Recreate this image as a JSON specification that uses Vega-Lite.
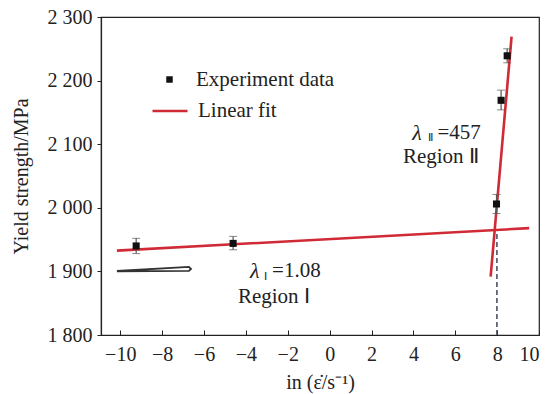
{
  "$schema": "https://vega.github.io/schema/vega-lite/v6.json",
  "width": 438,
  "height": 318,
  "autosize": {"type": "none"},
  "padding": {"left": 101, "top": 17, "right": 10, "bottom": 59},
  "background": "white",
  "config": {
    "font": "Liberation Serif",
    "view": {"stroke": "#222", "strokeWidth": 1.2},
    "text": {"font": "Liberation Serif"},
    "axis": {
      "labelFont": "Liberation Serif",
      "titleFont": "Liberation Serif",
      "labelFontSize": 20,
      "titleFontSize": 20,
      "titleFontWeight": "normal",
      "labelColor": "#222",
      "titleColor": "#222",
      "domainColor": "#222",
      "domainWidth": 1.2,
      "tickColor": "#222",
      "grid": false
    },
    "legend": {
      "labelFont": "Liberation Serif",
      "labelFontSize": 21,
      "labelColor": "#222",
      "padding": 0
    }
  },
  "datasets": {
    "experiment": [
      {"rate": -9.24, "strength": 1940, "lo": 1928, "hi": 1952, "series": "Experiment data"},
      {"rate": -4.61, "strength": 1944, "lo": 1934, "hi": 1955, "series": "Experiment data"},
      {"rate": 7.97, "strength": 2006, "lo": 1991, "hi": 2021, "series": "Experiment data"},
      {"rate": 8.19, "strength": 2169, "lo": 2154, "hi": 2185, "series": "Experiment data"},
      {"rate": 8.48, "strength": 2239, "lo": 2228, "hi": 2250, "series": "Experiment data"}
    ],
    "fits": [
      {"fit": "Region I", "i": 0, "rate": -10.16, "strength": 1932.6, "series": "Linear fit"},
      {"fit": "Region I", "i": 1, "rate": 9.53, "strength": 1968, "series": "Linear fit"},
      {"fit": "Region II", "i": 0, "rate": 7.69, "strength": 1891.7, "series": "Linear fit"},
      {"fit": "Region II", "i": 1, "rate": 8.69, "strength": 2269, "series": "Linear fit"}
    ],
    "wedge": [
      {"i": 0, "rate": -10.16, "strength": 1900},
      {"i": 1, "rate": -6.72, "strength": 1900.8},
      {"i": 2, "rate": -6.62, "strength": 1903.8},
      {"i": 3, "rate": -6.72, "strength": 1907},
      {"i": 4, "rate": -10.16, "strength": 1900.6}
    ],
    "threshold": [
      {"rate": 7.99, "from": 1800, "to": 1966}
    ],
    "labels": [
      {"rate": -2.75, "strength": 1900, "text": "=1.08"},
      {"rate": -4.38, "strength": 1860, "text": "Region  Ⅰ"},
      {"rate": 5.15, "strength": 2118, "text": "=457"},
      {"rate": 3.5, "strength": 2080, "text": "Region   Ⅱ"}
    ],
    "lambdas": [
      {"rate": -3.8, "strength": 1900, "text": "λ"},
      {"rate": 3.95, "strength": 2118, "text": "λ"}
    ],
    "subscripts": [
      {"rate": -3.15, "strength": 1891, "text": "Ⅰ"},
      {"rate": 4.68, "strength": 2109, "text": "Ⅱ"}
    ]
  },
  "encoding": {
    "x": {
      "field": "rate",
      "type": "quantitative",
      "scale": {"domain": [-10.92, 10.0], "nice": false, "zero": false},
      "axis": {"values": [-10, -8, -6, -4, -2, 0, 2, 4, 6, 8, 10], "title": "in (ε̇/s⁻¹)", "tickSize": -5, "labelPadding": 14, "titlePadding": 8}
    },
    "y": {
      "field": "strength",
      "type": "quantitative",
      "scale": {"domain": [1800, 2300], "nice": false, "zero": false},
      "axis": {"values": [1800, 1900, 2000, 2100, 2200, 2300], "title": "Yield strength/MPa", "tickSize": 4, "labelPadding": 5, "titlePadding": 16, "labelExpr": "replace(format(datum.value, ','), ',', ' ')"}
    }
  },
  "layer": [
    {
      "data": {"name": "wedge"},
      "mark": {"type": "line", "color": "#333", "strokeWidth": 1.8},
      "encoding": {"order": {"field": "i"}}
    },
    {
      "data": {"name": "threshold"},
      "mark": {"type": "rule", "color": "#3d4a58", "strokeWidth": 1.5, "strokeDash": [5, 3]},
      "encoding": {
        "y": {"field": "from", "type": "quantitative"},
        "y2": {"field": "to"}
      }
    },
    {
      "data": {"name": "fits"},
      "mark": {"type": "line", "strokeWidth": 2.6},
      "encoding": {
        "detail": {"field": "fit"},
        "order": {"field": "i"},
        "stroke": {
          "field": "series",
          "type": "nominal",
          "scale": {"domain": ["Linear fit"], "range": ["#cf2a35"]},
          "legend": {
            "title": null,
            "orient": "none",
            "legendX": 50,
            "legendY": 75,
            "symbolType": "stroke",
            "symbolSize": 1225,
            "symbolStrokeWidth": 2.6,
            "labelFont": "Liberation Serif",
            "labelOffset": 9
          }
        }
      }
    },
    {
      "data": {"name": "experiment"},
      "mark": {"type": "errorbar", "ticks": {"size": 8, "color": "#555"}, "rule": {"color": "#555", "strokeWidth": 1.2}},
      "encoding": {
        "y": {"field": "lo", "type": "quantitative"},
        "y2": {"field": "hi"}
      }
    },
    {
      "data": {"name": "experiment"},
      "mark": {"type": "square", "size": 50, "opacity": 1},
      "encoding": {
        "color": {
          "field": "series",
          "type": "nominal",
          "scale": {"domain": ["Experiment data"], "range": ["#111111"]},
          "legend": {
            "title": null,
            "orient": "none",
            "legendX": 58,
            "legendY": 52,
            "symbolType": "square",
            "symbolSize": 42,
            "labelFont": "Liberation Serif",
            "labelOffset": 16
          }
        }
      }
    },
    {
      "data": {"name": "labels"},
      "mark": {"type": "text", "align": "left", "baseline": "middle", "fontSize": 21, "color": "#222", "font": "Liberation Serif"},
      "encoding": {"text": {"field": "text"}}
    },
    {
      "data": {"name": "lambdas"},
      "mark": {"type": "text", "align": "left", "baseline": "middle", "fontSize": 22, "fontStyle": "italic", "color": "#222", "font": "Liberation Serif"},
      "encoding": {"text": {"field": "text"}}
    },
    {
      "data": {"name": "subscripts"},
      "mark": {"type": "text", "align": "left", "baseline": "middle", "fontSize": 11, "color": "#222", "font": "Liberation Serif"},
      "encoding": {"text": {"field": "text"}}
    }
  ]
}
